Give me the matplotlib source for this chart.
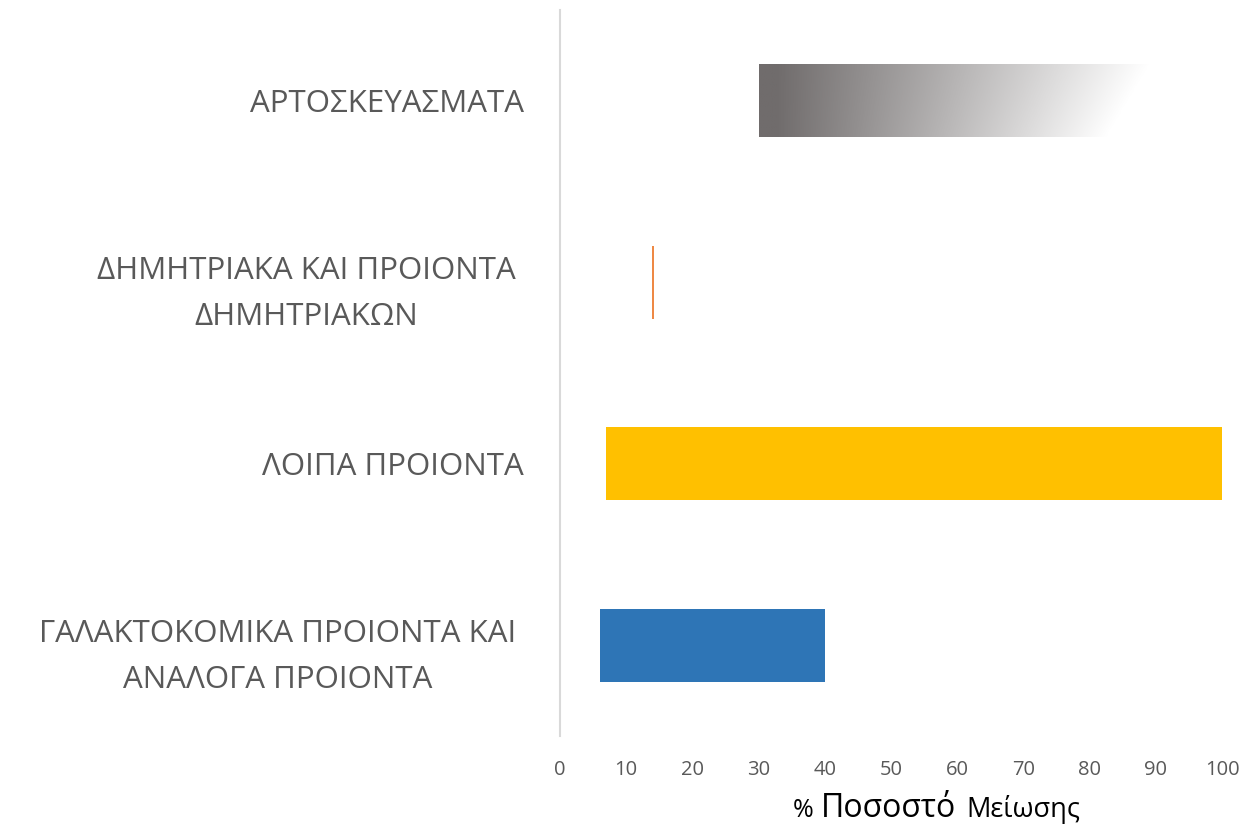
import matplotlib
matplotlib.use("Agg")
import matplotlib.pyplot as plt
import matplotlib.transforms as mtransforms
import numpy as np
from matplotlib.colors import LinearSegmentedColormap

categories = ["ΓΑΛΑΚΤΟΚΟΜΙΚΑ ΠΡΟΙΟΝΤΑ ΚΑΙ\nΑΝΑΛΟΓΑ ΠΡΟΙΟΝΤΑ",
              "ΛΟΙΠΑ ΠΡΟΙΟΝΤΑ",
              "ΔΗΜΗΤΡΙΑΚΑ ΚΑΙ ΠΡΟΙΟΝΤΑ\nΔΗΜΗΤΡΙΑΚΩΝ",
              "ΑΡΤΟΣΚΕΥΑΣΜΑΤΑ"]
starts = [6, 7, 14, 30]
ends = [40, 100, 14, 100]
xticks = [0, 10, 20, 30, 40, 50, 60, 70, 80, 90, 100]

plt.rcParams['font.family'] = ['Open Sans', 'DejaVu Sans']

fig = plt.figure(figsize=(12.46, 8.25), dpi=100)
ax = fig.add_axes([560/1246, 1-736/825, (1222-560)/1246, (736-10)/825])

y = np.arange(len(categories))
widths = [e - s for s, e in zip(starts, ends)]
h = 0.4

# blue and yellow
ax.barh(y[0], widths[0], left=starts[0], height=h, color='#2E75B6')
ax.barh(y[1], widths[1], left=starts[1], height=h, color='#FFC000')
# thin orange
ax.barh(y[2], widths[2], left=starts[2], height=h, color='none',
        edgecolor='#ED7D31', linewidth=1.3)
# gradient bar
gb = ax.barh(y[3], widths[3], left=starts[3], height=h, color='none', edgecolor='none')[0]
cmap = LinearSegmentedColormap.from_list('g', ['#706c6c', '#ffffff'])
nx, ny = 500, 80
xx = np.linspace(starts[3], ends[3], nx)
yy = np.linspace(0, 1, ny)  # 0 bottom, 1 top
X, Y = np.meshgrid(xx, yy)
fade_end = 82.5 + (89 - 82.5) * Y
g0 = 32.5
T = np.clip((X - g0) / (fade_end - g0), 0, 1)
im = ax.imshow(T, cmap=cmap, vmin=0, vmax=1, aspect='auto', origin='lower',
               extent=[starts[3], ends[3], y[3] - h/2, y[3] + h/2], zorder=2,
               interpolation='bilinear')
im.set_clip_path(gb)

ax.set_xlim(0, 100)
ax.set_ylim(-0.5, 3.5)
ax.set_xticks(xticks)
ax.set_xticklabels([str(t) for t in xticks], fontsize=14.5, color='#595959')
ax.tick_params(axis='x', length=0, pad=17)
ax.set_yticks(y)
ax.set_yticklabels(categories, fontsize=22.5, color='#595959', linespacing=1.72,
                   multialignment='center')
ax.tick_params(axis='y', length=0, pad=26)
for lbl in ax.get_yticklabels():
    if '\n' in lbl.get_text():
        lbl.set_transform(lbl.get_transform() +
                          mtransforms.ScaledTranslation(-8/100, 0, fig.dpi_scale_trans))
for s in ['top', 'right', 'bottom']:
    ax.spines[s].set_visible(False)
ax.spines['left'].set_color('#d9d9d9')
ax.spines['left'].set_linewidth(1.5)

# x-axis label in pieces
base = 1 - 817/825
fig.text(793/1246, base, "%", fontsize=18, color='black', ha='left', va='baseline')
fig.text(821/1246, base, "Ποσοστό", fontsize=23, color='black', ha='left', va='baseline')
fig.text(966/1246, base, "Μείωσης", fontsize=19.5, color='black', ha='left', va='baseline')

fig.savefig("out.png", dpi=100, facecolor='white')
